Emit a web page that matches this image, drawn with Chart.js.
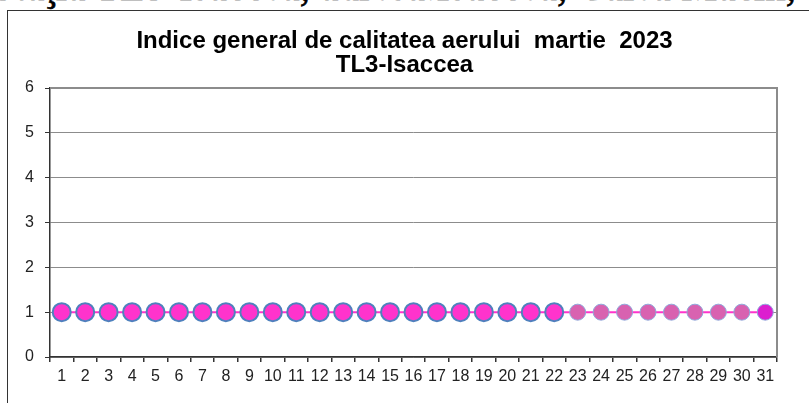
<!DOCTYPE html>
<html>
<head>
<meta charset="utf-8">
<script src="https://cdn.jsdelivr.net/npm/chart.js@4/dist/chart.umd.min.js"></script>
<style>
  body { margin: 0; width: 809px; height: 403px; overflow: hidden; background: #fff; position: relative; }
  #header { position: absolute; left: -8px; top: -34px; font-family: "Liberation Serif", "Times New Roman", serif; font-size: 41px; line-height: 41px; white-space: nowrap; color: #000; -webkit-text-stroke: 0.6px #000; }
  #box { position: absolute; left: 7px; top: 10px; width: 900px; height: 500px; border: 1.5px solid #333; background: #fff; }
  #wrap { position: absolute; left: 0; top: 0; width: 809px; height: 403px; }
</style>
</head>
<body>
<div id="header">Staţia TL3-Isaccea, adresa:Isaccea, Calea Măcin,</div>
<div id="box"></div>
<div id="wrap"><canvas id="myChart"></canvas></div>
<script>

////////// DATA /////////////
const days = ['1','2','3','4','5','6','7','8','9','10','11','12','13','14','15','16','17','18','19','20','21','22','23','24','25','26','27','28','29','30','31'];
const indice = [1,1,1,1,1,1,1,1,1,1,1,1,1,1,1,1,1,1,1,1,1,1,1,1,1,1,1,1,1,1,1];
const yTicks = [0,1,2,3,4,5,6];

// point look: days 1-22 validated, 23-30 lighter, 31 last day
const fillColors = days.map((d, i) => i < 22 ? '#ff33cc' : (i < 30 ? '#d862b0' : '#dc1ecf'));
const edgeColors = days.map((d, i) => i < 22 ? '#4f81bd' : '#8eaadb');
const edgeWidths = days.map((d, i) => i < 22 ? 2 : 1);
const radii = days.map((d, i) => i < 22 ? 9 : 8);

const tickFont = { family: "'Liberation Sans', Arial, sans-serif", size: 16 };

// frame on top / right of the plot area (excel style)
const frame = {
    id: 'frame',
    afterDraw(chart) {
        const a = chart.chartArea;
        const ctx = chart.ctx;
        ctx.save();
        ctx.strokeStyle = '#8c8c8c';
        ctx.lineWidth = 2;
        ctx.beginPath();
        ctx.moveTo(a.left, a.top);
        ctx.lineTo(a.right, a.top);
        ctx.lineTo(a.right, a.bottom);
        ctx.stroke();
        ctx.restore();
    }
};

const data = {
    labels: days,
    datasets: [{
        data: indice,
        borderColor: '#ff33cc',
        borderWidth: 2,
        pointBackgroundColor: fillColors,
        pointBorderColor: edgeColors,
        pointBorderWidth: edgeWidths,
        pointRadius: radii,
        fill: false,
        tension: 0
    }]
};

const config = {
    type: 'line',
    data: data,
    options: {
        responsive: false,
        animation: false,
        layout: { padding: 0 },
        plugins: {
            legend: { display: false },
            tooltip: { enabled: false },
            title: {
                display: true,
                text: ['Indice general de calitatea aerului  martie  2023', 'TL3-Isaccea'],
                color: '#000',
                font: { family: "'Liberation Sans', Arial, sans-serif", size: 24, weight: 'bold', lineHeight: 1 },
                padding: { top: 29, bottom: 11 }
            }
        },
        scales: {
            x: {
                offset: true,
                grid: { offset: true, drawOnChartArea: false, drawTicks: true, tickLength: 5, color: '#333', lineWidth: 1.5 },
                border: { color: '#333', width: 1.5 },
                ticks: { color: '#222', font: tickFont, padding: 5, maxRotation: 0, autoSkip: false },
                afterFit: (s) => { s.height = 46; }
            },
            y: {
                min: 0,
                max: 6,
                afterBuildTicks: (s) => { s.ticks = yTicks.map(v => ({ value: v })); },
                grid: { color: '#8c8c8c', lineWidth: 1, drawTicks: true, tickLength: 5, tickColor: '#333' },
                border: { color: '#333', width: 1.5 },
                ticks: { color: '#222', font: tickFont, padding: 11 },
                afterFit: (s) => { s.width = 50; }
            },
            // empty right side, keeps the title centred on the whole box
            yRight: {
                position: 'right',
                min: 0,
                max: 6,
                grid: { display: false },
                border: { display: false },
                ticks: { display: false },
                afterFit: (s) => { s.width = 32; }
            }
        }
    },
    plugins: [frame]
};

// RENDER
const canvas = document.getElementById('myChart');
canvas.width = 809;
canvas.height = 403;
var myChart = new Chart(canvas, config);

</script>
</body>
</html>
